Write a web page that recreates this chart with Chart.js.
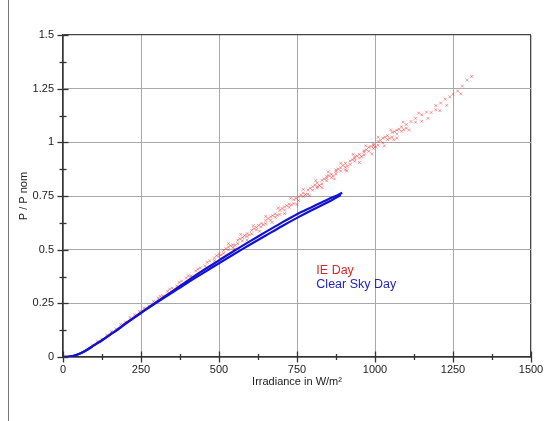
<!DOCTYPE html>
<html>
<head>
<meta charset="utf-8">
<script src="https://cdn.jsdelivr.net/npm/chart.js@4.4.1/dist/chart.umd.min.js"></script>
<style>
  html, body { margin: 0; padding: 0; background: #fff; }
  #wrap { position: relative; width: 546px; height: 421px; }
</style>
</head>
<body>
<div id="wrap"><canvas id="chart" width="546" height="421"></canvas></div>
<script>
// clear sky day: two branches (rising / falling irradiance)
const clearUpX = [0, 20, 40, 60, 80, 100, 125, 150, 175, 200, 250, 300, 350, 400, 450, 500, 550, 600, 650, 700, 750, 800, 850, 880, 895];
const clearUpY = [0, 0.002, 0.008, 0.02, 0.036, 0.055, 0.078, 0.103, 0.128, 0.155, 0.207, 0.257, 0.306, 0.356, 0.404, 0.45, 0.496, 0.54, 0.583, 0.625, 0.665, 0.70, 0.735, 0.754, 0.765];
const clearDnX = [0, 20, 40, 60, 80, 100, 125, 150, 175, 200, 250, 300, 350, 400, 450, 500, 550, 600, 650, 700, 750, 800, 850, 890];
const clearDnY = [0, 0.002, 0.008, 0.02, 0.036, 0.055, 0.078, 0.103, 0.128, 0.155, 0.205, 0.253, 0.3, 0.347, 0.392, 0.437, 0.481, 0.524, 0.566, 0.608, 0.648, 0.686, 0.722, 0.755];

// IE day: scattered samples
const ieX = [95, 110, 125, 140, 155, 170, 185, 200, 215, 230, 245, 260, 275, 290, 305, 320, 335, 350, 365, 380, 395, 410, 425, 440, 455, 470,
  485, 485, 500, 500, 515, 515, 530, 530, 545, 545, 560, 560, 575, 575, 590, 590, 605, 605, 620, 620, 635, 635, 650, 650,
  665, 665, 680, 680, 695, 695, 710, 710, 725, 725, 740, 740, 755, 755, 770, 770, 785, 785, 800, 800,
  815, 815, 815, 830, 830, 845, 845, 845, 860, 860, 875, 875, 875, 890, 890, 905, 905, 905, 920, 920, 935, 935, 935, 950, 950,
  965, 965, 965, 980, 980, 995, 995, 995, 1010, 1010, 1025, 1025, 1040, 1040, 1055, 1055, 1060, 1070, 1070, 1085, 1085, 1100, 1100,
  1115, 1130, 1130, 1150, 1150, 1165, 1180, 1195, 1195, 1208, 1210, 1225, 1240, 1250, 1265, 1280, 1295, 1310,
  312, 342, 372, 402, 432, 462, 492, 507, 522, 537, 552, 567, 582, 597, 612, 627, 642, 657, 672, 687, 702, 717, 732, 747, 762, 777, 792,
  807, 822, 837, 852, 867, 882, 897, 912, 927, 942, 957, 972, 987, 1002, 1017, 1032, 1047, 1062, 1077, 1092,
  530, 550, 570, 590, 610, 630, 650, 670, 690, 710, 730, 750, 770, 790, 810, 830, 850, 870, 890, 910, 930, 950, 970, 990,
  1010, 1030, 1050, 1070, 1090, 1110, 1140, 1170, 1230, 1275];
const ieY = [0.056, 0.072, 0.083, 0.102, 0.118, 0.131, 0.152, 0.163, 0.184, 0.197, 0.213, 0.229, 0.238, 0.259, 0.274, 0.285, 0.306, 0.321, 0.332, 0.354, 0.368, 0.377, 0.401, 0.415, 0.425, 0.448,
  0.462, 0.449, 0.481, 0.468, 0.497, 0.483, 0.512, 0.499, 0.523, 0.510, 0.544, 0.528, 0.556, 0.541, 0.575, 0.561, 0.590, 0.574, 0.604, 0.592, 0.622, 0.606, 0.636, 0.621,
  0.653, 0.637, 0.667, 0.651, 0.683, 0.664, 0.699, 0.684, 0.712, 0.697, 0.733, 0.715, 0.746, 0.729, 0.764, 0.748, 0.778, 0.759, 0.793, 0.777,
  0.811, 0.794, 0.787, 0.823, 0.806, 0.842, 0.821, 0.833, 0.851, 0.836, 0.872, 0.853, 0.864, 0.881, 0.866, 0.902, 0.884, 0.871, 0.913, 0.897, 0.931, 0.912, 0.924, 0.944, 0.927,
  0.961, 0.941, 0.954, 0.977, 0.958, 0.992, 0.972, 0.985, 1.004, 0.987, 1.019, 0.998, 1.031, 1.013, 1.046, 1.025, 1.012, 1.057, 1.039, 1.072, 1.052, 1.083, 1.066,
  1.097, 1.094, 1.112, 1.128, 1.098, 1.141, 1.139, 1.171, 1.152, 1.148, 1.183, 1.201, 1.212, 1.224, 1.239, 1.262, 1.29, 1.307,
  0.283, 0.316, 0.347, 0.378, 0.409, 0.441, 0.472, 0.476, 0.505, 0.518, 0.521, 0.551, 0.566, 0.569, 0.598, 0.613, 0.617, 0.645, 0.659, 0.661, 0.692, 0.705, 0.709, 0.739, 0.755, 0.757, 0.786,
  0.801, 0.799, 0.829, 0.845, 0.843, 0.876, 0.892, 0.889, 0.919, 0.937, 0.934, 0.966, 0.981, 0.979, 1.009, 1.024, 1.019, 1.05, 1.061, 1.059,
  0.528, 0.503, 0.571, 0.545, 0.612, 0.586, 0.655, 0.627, 0.695, 0.668, 0.739, 0.711, 0.781, 0.751, 0.822, 0.789, 0.862, 0.829, 0.903, 0.868, 0.944, 0.906, 0.984, 0.946,
  1.024, 0.983, 1.058, 1.02, 1.094, 1.057, 1.136, 1.112, 1.172, 1.226];

const xTicks = [0, 250, 500, 750, 1000, 1250, 1500];
const yTicks = [0, 0.25, 0.5, 0.75, 1, 1.25, 1.5];

const pts = (xs, ys) => xs.map((x, i) => ({ x: x, y: ys[i] }));
const isMajor = (list, v) => list.some(t => Math.abs(t - v) < 1e-6);
const FONT = "'Liberation Sans', Arial, sans-serif";

// crossing tick marks, left frame line, in-plot legend
const decor = {
  id: 'decor',
  afterDraw(chart) {
    const ctx = chart.ctx;
    const { x, y } = chart.scales;
    const area = chart.chartArea;
    ctx.save();
    ctx.strokeStyle = '#333';
    ctx.lineWidth = 1.3;
    x.ticks.forEach(t => {
      const px = Math.round(x.getPixelForValue(t.value)) + 0.5;
      const len = isMajor(xTicks, t.value) ? 5.5 : 3;
      ctx.beginPath();
      ctx.moveTo(px, area.bottom - len);
      ctx.lineTo(px, area.bottom + len);
      ctx.stroke();
    });
    y.ticks.forEach(t => {
      const py = Math.round(y.getPixelForValue(t.value)) + 0.5;
      const len = isMajor(yTicks, t.value) ? 5.5 : 3.5;
      ctx.beginPath();
      ctx.moveTo(area.left - len, py);
      ctx.lineTo(area.left + len, py);
      ctx.stroke();
    });
    // frame line on the left
    ctx.strokeStyle = '#777';
    ctx.lineWidth = 1;
    ctx.beginPath();
    ctx.moveTo(8.5, 0);
    ctx.lineTo(8.5, chart.height);
    ctx.stroke();
    // legend text
    ctx.font = '12.5px ' + FONT;
    ctx.textBaseline = 'middle';
    ctx.fillStyle = '#d42a2a';
    ctx.fillText('IE Day', x.getPixelForValue(812), y.getPixelForValue(0.403));
    ctx.fillStyle = '#2424b8';
    ctx.fillText('Clear Sky Day', x.getPixelForValue(812), y.getPixelForValue(0.338));
    ctx.restore();
  }
};

new Chart(document.getElementById('chart'), {
  type: 'scatter',
  data: {
    datasets: [
      { label: 'Clear Sky Day', data: pts(clearUpX, clearUpY), showLine: true, borderColor: '#1212d6', borderWidth: 2.2, pointRadius: 0, tension: 0.3, order: 0 },
      { label: 'Clear Sky Day', data: pts(clearDnX, clearDnY), showLine: true, borderColor: '#1212d6', borderWidth: 2.2, pointRadius: 0, tension: 0.3, order: 1 },
      { label: 'IE Day', data: pts(ieX, ieY), pointStyle: 'crossRot', pointRadius: 2, borderWidth: 1, borderColor: 'rgba(232,30,30,0.45)', backgroundColor: 'rgba(232,30,30,0.45)', order: 2 }
    ]
  },
  options: {
    responsive: false,
    animation: false,
    layout: { padding: { left: 0, right: 15, top: 35, bottom: 28 } },
    plugins: { legend: { display: false }, tooltip: { enabled: false } },
    scales: {
      x: {
        type: 'linear', min: 0, max: 1500,
        afterFit: s => { s.height = 36; s.paddingLeft = 0; s.paddingRight = 0; },
        ticks: {
          stepSize: 125, autoSkip: false, maxRotation: 0, padding: 6,
          color: '#222', font: { family: FONT, size: 11 },
          callback: v => isMajor(xTicks, v) ? String(v) : ''
        },
        grid: {
          drawTicks: false,
          color: c => isMajor(xTicks, c.tick.value) ? (c.tick.value === 1500 ? '#444' : '#a8a8a8') : 'rgba(0,0,0,0)',
          lineWidth: c => c.tick.value === 1500 ? 1.3 : 1
        },
        border: { color: '#333', width: 1.5 },
        title: { display: true, text: 'Irradiance in W/m²', color: '#222', font: { family: FONT, size: 11 }, padding: { top: 2, bottom: 4 } }
      },
      y: {
        type: 'linear', min: 0, max: 1.5,
        afterFit: s => { s.width = 63; },
        ticks: {
          stepSize: 0.125, autoSkip: false, padding: 9,
          color: '#222', font: { family: FONT, size: 11 },
          callback: v => isMajor(yTicks, v) ? String(Number(v.toFixed(2))) : ''
        },
        grid: {
          drawTicks: false,
          color: c => isMajor(yTicks, c.tick.value) ? (Math.abs(c.tick.value - 1.5) < 1e-6 ? '#444' : '#a8a8a8') : 'rgba(0,0,0,0)',
          lineWidth: c => Math.abs(c.tick.value - 1.5) < 1e-6 ? 1.3 : 1
        },
        border: { color: '#333', width: 1.5 },
        title: { display: true, text: 'P / P nom', color: '#222', font: { family: FONT, size: 11 }, padding: { top: 17, bottom: 0 } }
      }
    }
  },
  plugins: [decor]
});
</script>
</body>
</html>
